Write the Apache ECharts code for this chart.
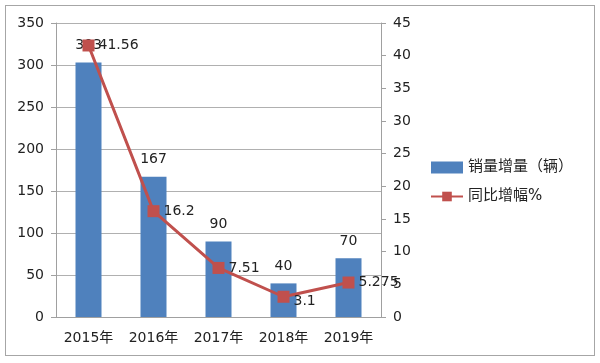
<!DOCTYPE html>
<html><head><meta charset="utf-8">
<script src="https://cdn.jsdelivr.net/npm/echarts@6/dist/echarts.min.js"></script>
<style>html,body{margin:0;padding:0;background:#fff}#c{width:600px;height:363px}
#b{position:absolute;left:5px;top:5px;width:590px;height:351px;border:1px solid #a6a6a6;box-sizing:border-box;pointer-events:none}</style>
</head><body><div id="c"></div><div id="b"></div>
<script>
var categories = ['2015年','2016年','2017年','2018年','2019年'];
var salesIncrease = [303,167,90,40,70];
var yoyGrowth = [41.56,16.2,7.51,3.1,5.275];
var leftTicks = [0,350,50];
var rightTicks = [0,45,5];
var font = 'DejaVu Sans, Noto Sans CJK SC';
var chart = echarts.init(document.getElementById('c'));
chart.setOption({
  animation:false,
  textStyle:{fontFamily:font},
  grid:{left:56,right:219,top:23,bottom:46},
  legend:{
    orient:'vertical', left:425, top:155, itemGap:14, itemWidth:32, itemHeight:12,
    textStyle:{fontSize:15,color:'#222',fontFamily:font},
    data:[{name:'销量增量（辆）',icon:'rect'},{name:'同比增幅%'}]
  },
  xAxis:{type:'category',data:categories,
    axisLine:{lineStyle:{color:'#a0a0a0'}},
    axisTick:{length:5,lineStyle:{color:'#a0a0a0'}},
    axisLabel:{fontSize:14,color:'#222',margin:14}},
  yAxis:[
    {type:'value',min:leftTicks[0],max:leftTicks[1],interval:leftTicks[2],
     axisLine:{show:true,lineStyle:{color:'#a0a0a0'}},
     axisTick:{show:true,length:5,lineStyle:{color:'#a0a0a0'}},
     splitLine:{lineStyle:{color:'#b0b0b0'}},
     axisLabel:{fontSize:14,color:'#222',margin:12}},
    {type:'value',min:rightTicks[0],max:rightTicks[1],interval:rightTicks[2],
     axisLine:{show:true,lineStyle:{color:'#a0a0a0'}},
     axisTick:{show:true,length:5,lineStyle:{color:'#a0a0a0'}},
     splitLine:{show:false},
     axisLabel:{fontSize:14,color:'#222',margin:12}}
  ],
  series:[
    {name:'销量增量（辆）',type:'bar',data:salesIncrease,barWidth:26,
     itemStyle:{color:'#4F81BD'},
     label:{show:true,position:'top',fontSize:14,color:'#222',distance:10}},
    {name:'同比增幅%',type:'line',yAxisIndex:1,data:yoyGrowth.map(function(v,i){
        return i===3?{value:v,label:{offset:[0,5]}}:v;}),
     symbol:'rect',symbolSize:12,
     lineStyle:{color:'#C0504D',width:3},
     itemStyle:{color:'#C0504D'},
     label:{show:true,position:'right',fontSize:14,color:'#222',distance:4}}
  ]
});
</script></body></html>
